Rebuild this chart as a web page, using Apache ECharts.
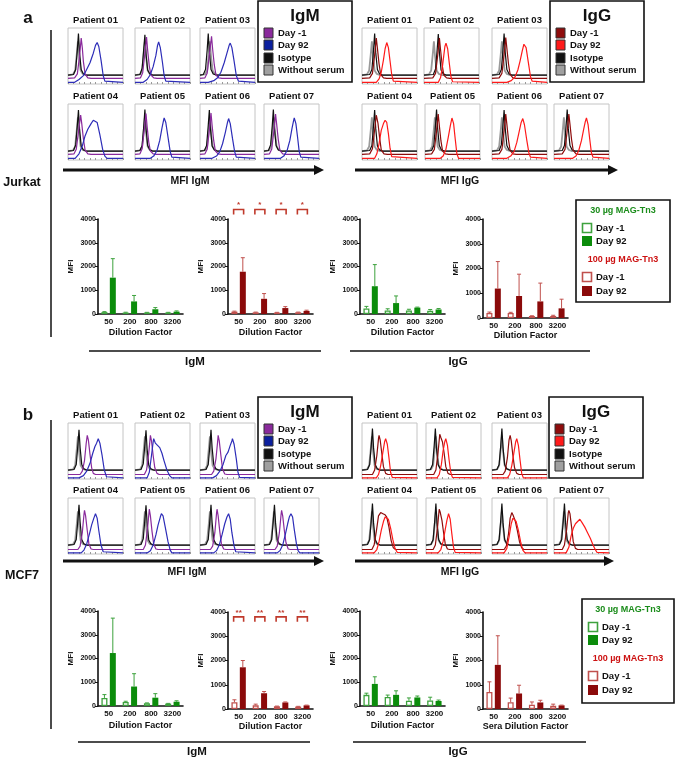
<!DOCTYPE html>
<html>
<head>
<meta charset="UTF-8">
<title>MAG-Tn3 antibodies</title>
<script src="https://cdn.jsdelivr.net/npm/echarts/dist/echarts.min.js"></script>
<style>
html, body { margin: 0; padding: 0; background: #fff; }
#main { width: 678px; height: 759px; }
</style>
</head>
<body>
<div id="main"></div>
<script>
// ---- data ----
var patients = ['Patient 01', 'Patient 02', 'Patient 03', 'Patient 04', 'Patient 05', 'Patient 06', 'Patient 07'];
var dilutions = ['50', '200', '800', '3200'];

// histogram curves: flat x,y pairs (x = % of MFI axis, y = % of box height)
var noSerum = [9,1, 13,8, 16,38, 18,60, 20,34, 23,8, 27,2, 32,0];

var aIgM_iso = [
  [10,1, 14,10, 17,45, 19,74, 21,40, 24,10, 28,2, 33,0],
  [9,1, 13,12, 16,48, 18,72, 20,38, 23,9, 27,2, 32,0],
  [6,1, 10,10, 13,44, 15,74, 17,42, 20,10, 24,2, 29,0],
  [10,1, 14,11, 17,46, 19,73, 21,40, 24,9, 28,2, 33,0],
  [9,1, 13,10, 16,45, 18,74, 20,41, 23,10, 27,2, 32,0],
  [8,1, 12,10, 15,46, 17,73, 19,40, 22,9, 26,2, 31,0],
  [8,1, 12,11, 15,45, 17,74, 19,40, 22,10, 26,2, 31,0]
];
var aIgM_d1 = [
  [12,1, 17,8, 21,40, 24,72, 26,55, 28,30, 31,8, 36,1, 42,0],
  [10,1, 14,10, 18,45, 21,74, 23,50, 26,22, 29,6, 34,1, 40,0],
  [9,1, 13,9, 17,42, 21,75, 23,52, 26,24, 29,6, 34,1, 40,0],
  [11,1, 15,9, 19,40, 23,70, 25,55, 28,28, 31,8, 36,1, 42,0],
  [9,1, 13,10, 17,45, 20,73, 22,50, 25,22, 28,6, 33,1, 39,0],
  [9,1, 13,9, 17,43, 20,74, 22,52, 25,24, 28,6, 33,1, 39,0],
  [10,1, 14,9, 18,42, 21,72, 23,54, 26,26, 29,7, 34,1, 40,0]
];
var aIgM_d92 = [
  [12,0, 20,5, 28,12, 33,21, 40,35, 46,52, 50,66, 53,71, 56,64, 60,40, 64,12, 67,2, 70,0],
  [15,0, 22,5, 28,14, 33,28, 38,48, 41,66, 43,72, 46,62, 50,35, 53,12, 56,2, 59,0],
  [15,0, 25,3, 32,8, 38,18, 44,35, 49,52, 53,66, 55,70, 58,62, 62,38, 66,12, 70,2, 73,0],
  [13,0, 20,8, 26,22, 31,40, 36,52, 42,62, 46,68, 49,70, 53,64, 58,42, 63,16, 67,4, 71,0],
  [28,0, 34,4, 40,14, 45,32, 49,54, 52,68, 53,72, 56,64, 60,38, 64,12, 67,2, 70,0],
  [22,0, 30,4, 36,12, 41,26, 46,46, 50,64, 52,71, 55,62, 59,36, 63,12, 66,2, 69,0],
  [30,0, 36,4, 42,14, 47,32, 51,54, 54,68, 55,72, 58,62, 61,38, 64,12, 67,2, 70,0]
];
var aIgG_iso = [
  [14,1, 18,10, 21,45, 23,74, 25,40, 28,10, 32,2, 37,0],
  [17,1, 21,11, 24,46, 26,73, 28,40, 31,9, 35,2, 40,0],
  [13,1, 17,10, 20,45, 22,74, 24,41, 27,10, 31,2, 36,0],
  [14,1, 18,10, 21,46, 23,73, 25,40, 28,9, 32,2, 37,0],
  [12,1, 16,10, 19,45, 21,74, 23,40, 26,10, 30,2, 35,0],
  [13,1, 17,11, 20,46, 22,73, 24,41, 27,10, 31,2, 36,0],
  [15,1, 19,10, 22,45, 24,74, 26,40, 29,10, 33,2, 38,0]
];
var aIgG_d1 = [
  [14,1, 19,9, 23,42, 26,72, 28,54, 31,26, 34,7, 39,1, 45,0],
  [16,1, 21,9, 25,42, 28,72, 30,52, 33,24, 36,6, 41,1, 47,0],
  [13,1, 18,9, 22,42, 25,73, 27,54, 30,26, 33,7, 38,1, 44,0],
  [14,1, 19,10, 23,44, 26,70, 29,56, 32,30, 35,8, 40,1, 46,0],
  [12,1, 17,9, 21,42, 24,72, 26,52, 29,24, 32,6, 37,1, 43,0],
  [13,1, 18,9, 22,42, 25,72, 27,54, 30,26, 33,7, 38,1, 44,0],
  [15,1, 20,9, 24,42, 27,72, 29,54, 32,26, 35,7, 40,1, 46,0]
];
var aIgG_d92 = [
  [26,0, 31,6, 35,18, 39,40, 42,60, 45,71, 48,62, 51,38, 54,14, 57,2, 60,0],
  [26,0, 30,8, 33,24, 36,48, 38,64, 40,70, 43,60, 46,34, 49,10, 52,1, 55,0],
  [27,0, 35,3, 42,10, 47,22, 51,38, 55,56, 58,68, 59,71, 62,62, 66,36, 70,10, 73,2, 76,0],
  [23,0, 27,8, 31,26, 35,50, 39,62, 42,68, 45,64, 48,44, 51,18, 54,3, 57,0],
  [28,0, 33,4, 38,16, 42,36, 46,58, 49,72, 52,62, 55,34, 58,8, 61,0],
  [27,0, 34,4, 40,12, 45,28, 49,46, 53,64, 56,71, 59,60, 63,34, 67,10, 70,2, 73,0],
  [34,0, 40,4, 45,14, 50,32, 54,52, 57,66, 59,72, 62,60, 65,34, 68,10, 71,2, 74,0]
];
var bIgM_iso = [
  [11,1, 15,10, 18,45, 20,72, 22,40, 25,10, 29,2, 34,0],
  [11,1, 15,11, 18,46, 20,71, 22,38, 25,9, 29,2, 34,0],
  [11,1, 15,10, 18,44, 20,72, 22,40, 25,10, 29,2, 34,0],
  [11,1, 15,10, 18,45, 20,72, 22,41, 25,10, 29,2, 34,0],
  [11,1, 15,11, 18,46, 20,71, 22,40, 25,9, 29,2, 34,0],
  [11,1, 15,10, 18,45, 20,72, 22,40, 25,10, 29,2, 34,0],
  [10,1, 14,10, 17,45, 19,72, 21,40, 24,10, 28,2, 33,0]
];
var bIgM_d1 = [
  [22,0, 26,6, 30,25, 33,55, 35,70, 37,62, 40,36, 43,12, 46,2, 50,0],
  [17,0, 21,8, 25,38, 28,70, 30,60, 33,34, 36,12, 40,2, 44,0],
  [21,0, 25,6, 29,28, 32,58, 33,70, 35,60, 38,34, 41,10, 45,1, 49,0],
  [18,0, 22,6, 26,30, 29,62, 30,70, 32,60, 35,34, 38,10, 42,1, 46,0],
  [15,0, 19,8, 23,40, 26,72, 28,60, 31,32, 34,10, 38,1, 42,0],
  [19,0, 23,6, 27,30, 30,64, 31,72, 33,60, 36,32, 39,10, 43,1, 47,0],
  [20,0, 24,6, 28,30, 31,62, 32,70, 34,60, 37,34, 40,12, 44,1, 48,0]
];
var bIgM_d92 = [
  [20,0, 28,4, 34,12, 40,26, 45,44, 49,56, 52,62, 55,70, 58,62, 62,40, 66,14, 70,2, 73,0],
  [22,0, 26,10, 30,40, 33,64, 34,70, 37,62, 41,58, 45,54, 49,44, 53,30, 58,14, 63,4, 67,0],
  [23,0, 30,4, 36,12, 42,24, 47,40, 51,46, 55,58, 58,66, 59,70, 62,60, 66,34, 69,10, 72,1, 75,0],
  [24,0, 29,5, 34,16, 39,34, 43,50, 47,62, 50,70, 53,62, 56,40, 60,14, 64,2, 67,0],
  [22,0, 28,4, 33,14, 38,32, 42,50, 46,64, 48,70, 51,66, 55,46, 60,20, 64,5, 67,0],
  [25,0, 30,4, 35,14, 40,32, 45,52, 49,64, 52,70, 55,60, 58,36, 62,12, 65,2, 68,0],
  [24,0, 29,4, 34,14, 39,34, 43,52, 46,64, 49,70, 52,64, 55,42, 59,16, 62,4, 65,0]
];
var bIgG_iso = [
  [10,1, 14,10, 17,46, 19,74, 21,40, 24,10, 28,2, 33,0],
  [8,1, 12,10, 15,45, 17,74, 19,40, 22,10, 26,2, 31,0],
  [9,1, 13,10, 16,45, 18,74, 20,41, 23,10, 27,2, 32,0],
  [10,1, 14,10, 17,46, 19,74, 21,40, 24,10, 28,2, 33,0],
  [9,1, 13,10, 16,45, 18,74, 20,40, 23,10, 27,2, 32,0],
  [9,1, 13,10, 16,46, 18,74, 20,40, 23,10, 27,2, 32,0],
  [10,1, 14,10, 17,45, 19,74, 21,40, 24,10, 28,2, 33,0]
];
var bIgG_d1 = [
  [19,0, 23,8, 27,34, 30,64, 31,70, 33,62, 36,38, 39,14, 43,2, 47,0],
  [14,0, 18,8, 22,40, 25,72, 27,66, 30,58, 33,38, 36,14, 40,2, 44,0],
  [20,0, 24,6, 28,30, 31,62, 33,70, 35,60, 38,34, 41,12, 45,2, 49,0],
  [18,0, 22,8, 26,32, 30,60, 34,66, 38,64, 42,62, 45,58, 49,40, 53,16, 57,3, 61,0],
  [13,0, 17,8, 21,40, 24,72, 26,66, 29,52, 32,30, 35,10, 39,1, 43,0],
  [22,0, 26,6, 30,28, 33,56, 36,66, 38,62, 42,52, 46,34, 50,14, 54,3, 58,0],
  [15,0, 19,8, 23,36, 26,66, 27,70, 29,64, 32,40, 35,14, 39,2, 43,0]
];
var bIgG_d92 = [
  [26,0, 30,6, 34,22, 38,46, 41,64, 43,70, 46,60, 49,36, 52,10, 55,1, 58,0],
  [20,0, 24,6, 28,24, 31,48, 34,64, 36,70, 39,58, 42,32, 45,10, 48,1, 51,0],
  [28,0, 32,6, 36,22, 40,46, 43,64, 45,70, 48,58, 51,32, 54,8, 57,0],
  [22,0, 27,6, 31,20, 35,40, 39,56, 42,64, 45,66, 48,60, 52,44, 56,24, 60,8, 64,1, 67,0],
  [22,0, 27,6, 31,20, 35,42, 38,58, 41,70, 44,60, 47,34, 50,10, 53,1, 56,0],
  [22,0, 27,8, 31,28, 35,52, 38,62, 40,64, 44,56, 48,40, 52,20, 56,5, 60,0],
  [22,0, 27,10, 31,30, 35,44, 39,52, 43,56, 47,60, 51,54, 56,46, 61,36, 66,26, 71,14, 75,6, 78,1, 81,0]
];

// bar charts: mean MFI and SD per dilution
var aIgM30_d1 = [80, 60, 60, 60],       aIgM30_d1_sd = [20, 15, 10, 10];
var aIgM30_d92 = [1530, 530, 200, 100], aIgM30_d92_sd = [800, 250, 70, 30];
var aIgM100_d1 = [100, 70, 60, 70],     aIgM100_d1_sd = [20, 10, 10, 10];
var aIgM100_d92 = [1780, 640, 250, 130], aIgM100_d92_sd = [590, 220, 60, 30];
var aIgG30_d1 = [230, 150, 150, 140],   aIgG30_d1_sd = [90, 70, 50, 50];
var aIgG30_d92 = [1170, 460, 270, 190], aIgG30_d92_sd = [910, 300, 20, 40];
var aIgG100_d1 = [200, 200, 80, 80],    aIgG100_d1_sd = [40, 30, 10, 30];
var aIgG100_d92 = [1190, 890, 670, 390], aIgG100_d92_sd = [1090, 880, 740, 370];

var bIgM30_d1 = [340, 170, 120, 100],   bIgM30_d1_sd = [140, 30, 10, 10];
var bIgM30_d92 = [2230, 820, 350, 180], bIgM30_d92_sd = [1470, 540, 170, 40];
var bIgM100_d1 = [280, 150, 110, 100],  bIgM100_d1_sd = [100, 50, 10, 10];
var bIgM100_d92 = [1720, 650, 270, 150], bIgM100_d92_sd = [280, 70, 20, 10];
var bIgG30_d1 = [470, 380, 220, 230],   bIgG30_d1_sd = [70, 80, 120, 140];
var bIgG30_d92 = [930, 470, 360, 210],  bIgG30_d92_sd = [300, 170, 60, 40];
var bIgG100_d1 = [700, 280, 180, 130],  bIgG100_d1_sd = [420, 170, 110, 70];
var bIgG100_d92 = [1820, 640, 270, 150], bIgG100_d92_sd = [1200, 340, 90, 10];

var sigA = ['*', '*', '*', '*'];
var sigB = ['**', '**', '**', '**'];

// ---- colours ----
var FONT = '"Liberation Sans", Arial, sans-serif';
var PURPLE = '#8a2a9c', BLUE = '#2d2db8', DKRED = '#8e0c0c', RED = '#ff1a1a';
var GREEN = '#0b8c0b', GREEN_L = '#3da23d', MAROON = '#8b0a0a', MAROON_L = '#c0504d';

var grids = [], xAxes = [], yAxes = [], series = [], graphics = [];

function txt(x, y, s, size, color, align) {
  graphics.push({
    type: 'text', silent: true,
    style: { text: s, x: x, y: y, fill: color || '#111', textAlign: align || 'center',
      textVerticalAlign: 'middle', font: 'bold ' + size + 'px ' + FONT }
  });
}
function seg(x1, y1, x2, y2, w) {
  graphics.push({ type: 'line', silent: true, shape: { x1: x1, y1: y1, x2: x2, y2: y2 },
    style: { stroke: '#111', lineWidth: w || 1.5 } });
}
function box(x, y, w, h, fill, stroke, lw) {
  graphics.push({ type: 'rect', silent: true, shape: { x: x, y: y, width: w, height: h },
    style: { fill: fill, stroke: stroke, lineWidth: lw } });
}
function arrow(x1, x2, y) {
  seg(x1, y, x2 - 8, y, 3);
  graphics.push({ type: 'polygon', silent: true,
    shape: { points: [[x2 - 10, y - 5], [x2, y], [x2 - 10, y + 5]] }, style: { fill: '#111' } });
}

function curve(pts, off) {
  var out = [[0, off]];
  for (var i = 0; i < pts.length; i += 2) out.push([pts[i], pts[i + 1] + off]);
  out.push([100, off]);
  return out;
}

// ---- flow cytometry histograms ----
var histBlocks = [
  { iso: aIgM_iso, d1: aIgM_d1, d92: aIgM_d92, c1: PURPLE, c92: BLUE,
    cols: [[68, 135, 200], [68, 135, 200, 264]], tops: [28, 104], off: [16, 10, 3] },
  { iso: aIgG_iso, d1: aIgG_d1, d92: aIgG_d92, c1: DKRED, c92: RED,
    cols: [[362, 424, 492], [362, 425, 492, 554]], tops: [28, 104], off: [16, 10, 3] },
  { iso: bIgM_iso, d1: bIgM_d1, d92: bIgM_d92, c1: PURPLE, c92: BLUE,
    cols: [[68, 135, 200], [68, 135, 200, 264]], tops: [423, 498], off: [16, 8, 2] },
  { iso: bIgG_iso, d1: bIgG_d1, d92: bIgG_d92, c1: DKRED, c92: RED,
    cols: [[362, 426, 492], [362, 426, 492, 554]], tops: [423, 498], off: [16, 8, 2] }
];

histBlocks.forEach(function (b) {
  for (var i = 0; i < 7; i++) {
    var row = i < 3 ? 0 : 1, col = i < 3 ? i : i - 3;
    var left = b.cols[row][col], top = b.tops[row];
    var k = grids.length;
    grids.push({ left: left, top: top, width: 55, height: 56, show: true,
      borderColor: '#c4c4c4', borderWidth: 1, backgroundColor: '#fff' });
    xAxes.push({ gridIndex: k, type: 'value', min: 0, max: 100, interval: 10,
      axisLine: { show: false }, axisLabel: { show: false }, splitLine: { show: false },
      axisTick: { show: true, inside: true, length: 2, lineStyle: { color: '#999' } } });
    yAxes.push({ gridIndex: k, type: 'value', min: 0, max: 100, show: false });
    var lines = [
      [noSerum, b.off[0], '#9a9a9a', 1.8],
      [b.iso[i], b.off[0], '#111', 1.2],
      [b.d1[i], b.off[1], b.c1, 1.2],
      [b.d92[i], b.off[2], b.c92, 1.2]
    ];
    lines.forEach(function (l) {
      series.push({ type: 'line', xAxisIndex: k, yAxisIndex: k, data: curve(l[0], l[1]),
        symbol: 'none', silent: true, lineStyle: { color: l[2], width: l[3] } });
    });
    txt(left + 27.5, top - 8, patients[i], 9.5);
  }
});

// ---- bar charts ----
var barCharts = [
  { d1: aIgM30_d1, d1e: aIgM30_d1_sd, d92: aIgM30_d92, d92e: aIgM30_d92_sd, green: true, left: 98, top: 219, h: 95, gap: 14, name: 'Dilution Factor' },
  { d1: aIgM100_d1, d1e: aIgM100_d1_sd, d92: aIgM100_d92, d92e: aIgM100_d92_sd, green: false, left: 228, top: 219, h: 95, gap: 14, name: 'Dilution Factor', sig: sigA, sigLevel: 4400 },
  { d1: aIgG30_d1, d1e: aIgG30_d1_sd, d92: aIgG30_d92, d92e: aIgG30_d92_sd, green: true, left: 360, top: 219, h: 95, gap: 14, name: 'Dilution Factor' },
  { d1: aIgG100_d1, d1e: aIgG100_d1_sd, d92: aIgG100_d92, d92e: aIgG100_d92_sd, green: false, left: 483, top: 219, h: 99, gap: 10, name: 'Dilution Factor' },
  { d1: bIgM30_d1, d1e: bIgM30_d1_sd, d92: bIgM30_d92, d92e: bIgM30_d92_sd, green: true, left: 98, top: 611, h: 95, gap: 15, name: 'Dilution Factor' },
  { d1: bIgM100_d1, d1e: bIgM100_d1_sd, d92: bIgM100_d92, d92e: bIgM100_d92_sd, green: false, left: 228, top: 612, h: 97, gap: 11, name: 'Dilution Factor', sig: sigB, sigLevel: 3800 },
  { d1: bIgG30_d1, d1e: bIgG30_d1_sd, d92: bIgG30_d92, d92e: bIgG30_d92_sd, green: true, left: 360, top: 611, h: 95, gap: 15, name: 'Dilution Factor' },
  { d1: bIgG100_d1, d1e: bIgG100_d1_sd, d92: bIgG100_d92, d92e: bIgG100_d92_sd, green: false, left: 483, top: 612, h: 97, gap: 11, name: 'Sera Dilution Factor' }
];

function errSeries(k, vals, errs, shift, color) {
  return {
    type: 'custom', xAxisIndex: k, yAxisIndex: k, silent: true, clip: false, z: 3,
    data: vals.map(function (v, i) { return [i, v, errs[i]]; }),
    renderItem: function (params, api) {
      var c = api.value(0), v = api.value(1), e = api.value(2);
      var p0 = api.coord([c, v]), p1 = api.coord([c, v + e]);
      var x = p0[0] + shift;
      return { type: 'group', children: [
        { type: 'line', shape: { x1: x, y1: p0[1], x2: x, y2: p1[1] }, style: { stroke: color, lineWidth: 1 } },
        { type: 'line', shape: { x1: x - 2, y1: p1[1], x2: x + 2, y2: p1[1] }, style: { stroke: color, lineWidth: 1 } }
      ] };
    }
  };
}

barCharts.forEach(function (c) {
  var k = grids.length;
  var solid = c.green ? GREEN : MAROON, light = c.green ? GREEN_L : MAROON_L;
  grids.push({ left: c.left, top: c.top, width: 85, height: c.h });
  xAxes.push({ gridIndex: k, type: 'category', data: dilutions,
    axisLine: { lineStyle: { color: '#111', width: 1.6 } }, axisTick: { show: false },
    axisLabel: { interval: 0, fontSize: 8, fontWeight: 'bold', color: '#111', margin: 4, fontFamily: FONT },
    name: c.name, nameLocation: 'middle', nameGap: c.gap,
    nameTextStyle: { fontSize: 9, fontWeight: 'bold', color: '#111', fontFamily: FONT } });
  yAxes.push({ gridIndex: k, type: 'value', min: 0, max: 4000, interval: 1000,
    axisLine: { show: true, lineStyle: { color: '#111', width: 1.6 } },
    axisTick: { show: true, length: 3, lineStyle: { color: '#111' } },
    axisLabel: { fontSize: 7, fontWeight: 'bold', color: '#111', margin: 2, fontFamily: FONT,
      formatter: function (v) { return String(v); } },
    splitLine: { show: false },
    name: 'MFI', nameLocation: 'middle', nameGap: 23, nameRotate: 90,
    nameTextStyle: { fontSize: 8, fontWeight: 'bold', color: '#111', fontFamily: FONT } });
  series.push({ type: 'bar', xAxisIndex: k, yAxisIndex: k, data: c.d1, barWidth: 6, barGap: '40%',
    silent: true, itemStyle: { color: '#fff', borderColor: light, borderWidth: 1.3 } });
  series.push({ type: 'bar', xAxisIndex: k, yAxisIndex: k, data: c.d92, barWidth: 6, barGap: '40%',
    silent: true, itemStyle: { color: solid } });
  series.push(errSeries(k, c.d1, c.d1e, -4.2, light));
  series.push(errSeries(k, c.d92, c.d92e, 4.2, light));
  if (c.sig) {
    series.push({ type: 'custom', xAxisIndex: k, yAxisIndex: k, silent: true, clip: false, z: 4,
      data: c.sig.map(function (s, i) { return [i, c.sigLevel]; }),
      renderItem: function (params, api) {
        var p = api.coord([api.value(0), api.value(1)]);
        return { type: 'group', children: [
          { type: 'polyline', shape: { points: [[p[0] - 5, p[1] + 5], [p[0] - 5, p[1]], [p[0] + 5, p[1]], [p[0] + 5, p[1] + 5]] },
            style: { stroke: '#c0392b', lineWidth: 1.6, fill: null } },
          { type: 'text', style: { text: c.sig[params.dataIndex], x: p[0], y: p[1] - 0.5, fill: '#c0392b',
            textAlign: 'center', textVerticalAlign: 'bottom', font: 'bold 8px ' + FONT } }
        ] };
      } });
  }
});

// ---- labels, legends, arrows ----
txt(28, 18, 'a', 17);
txt(28, 415, 'b', 17);
txt(22, 183, 'Jurkat', 12.5);
txt(22, 576, 'MCF7', 12.5);
seg(51, 30, 51, 337, 1.5);
seg(51, 420, 51, 729, 1.5);

function histLegend(x, y, title, colors) {
  box(x, y, 94, 81, '#fff', '#111', 1.6);
  txt(x + 47, y + 15, title, 17);
  var labels = ['Day -1', 'Day 92', 'Isotype', 'Without serum'];
  var ys = [32, 44, 57, 69];
  for (var i = 0; i < 4; i++) {
    box(x + 6, y + ys[i] - 5, 9, 10, colors[i], '#333', 1);
    txt(x + 20, y + ys[i], labels[i], 9.5, '#111', 'left');
  }
}
histLegend(258, 1, 'IgM', [PURPLE, '#0b1f9e', '#111', '#a0a0a0']);
histLegend(550, 1, 'IgG', [DKRED, RED, '#111', '#a0a0a0']);
histLegend(258, 397, 'IgM', [PURPLE, '#0b1f9e', '#111', '#a0a0a0']);
histLegend(549, 397, 'IgG', [DKRED, RED, '#111', '#a0a0a0']);

arrow(63, 324, 170);
arrow(355, 618, 170);
arrow(63, 324, 561);
arrow(355, 614, 561);
txt(190, 181, 'MFI IgM', 10.5);
txt(460, 181, 'MFI IgG', 10.5);
txt(187, 572, 'MFI IgM', 10.5);
txt(460, 572, 'MFI IgG', 10.5);

function barLegend(x, y, w, h) {
  box(x, y, w, h, '#fff', '#111', 1.6);
  var cx = x + w / 2;
  txt(cx, y + 11, '30 µg MAG-Tn3', 9, '#1a8c1a');
  box(x + 6.5, y + 23.5, 9, 9, '#fff', GREEN_L, 1.6);
  txt(x + 20, y + 28, 'Day -1', 9.5, '#111', 'left');
  box(x + 6, y + 36, 10, 10, GREEN, GREEN, 0);
  txt(x + 20, y + 41, 'Day 92', 9.5, '#111', 'left');
  txt(cx, y + 60, '100 µg MAG-Tn3', 9, '#cc1111');
  box(x + 6.5, y + 72.5, 9, 9, '#fff', MAROON_L, 1.6);
  txt(x + 20, y + 77, 'Day -1', 9.5, '#111', 'left');
  box(x + 6, y + 86, 10, 10, MAROON, MAROON, 0);
  txt(x + 20, y + 91, 'Day 92', 9.5, '#111', 'left');
}
barLegend(576, 200, 94, 102);
barLegend(582, 599, 92, 104);

seg(89, 351, 321, 351, 1.5);
seg(350, 351, 590, 351, 1.5);
txt(195, 362, 'IgM', 11.5);
txt(458, 362, 'IgG', 11.5);
seg(78, 742, 310, 742, 1.5);
seg(353, 742, 586, 742, 1.5);
txt(197, 752, 'IgM', 11.5);
txt(458, 752, 'IgG', 11.5);

var myChart = echarts.init(document.getElementById('main'));
myChart.setOption({
  animation: false,
  backgroundColor: '#fff',
  textStyle: { fontFamily: FONT },
  grid: grids,
  xAxis: xAxes,
  yAxis: yAxes,
  series: series,
  graphic: { elements: graphics }
});
</script>
</body>
</html>
